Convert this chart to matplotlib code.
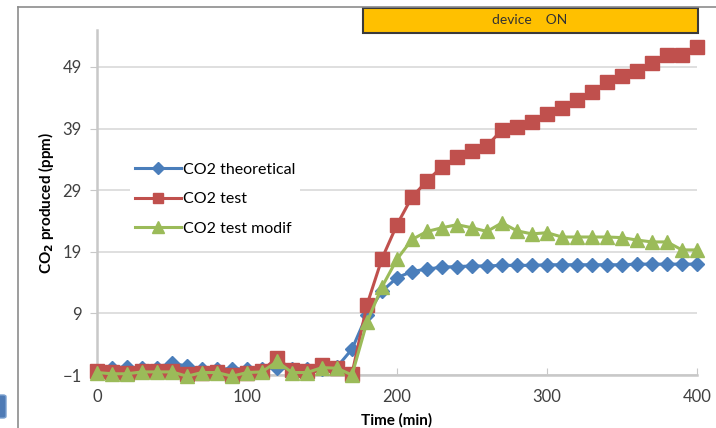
import matplotlib
matplotlib.use("Agg")
import matplotlib.pyplot as plt
from matplotlib.lines import Line2D
from matplotlib.patches import Rectangle, FancyBboxPatch

# time points (min), one sample every 10 min
time_min = list(range(0, 401, 10))

co2_theoretical = [-0.3, 0.2, 0.3, 0.1, 0.2, 1.0, 0.4, 0.0, 0.0, 0.0, 0.0, 0.0, 0.2, 0.0, 0.0, 0.0, 0.3,
                   3.2, 8.8, 12.6, 14.8, 15.8, 16.2, 16.5,
                   16.6, 16.7, 16.7, 16.8, 16.8, 16.8, 16.9, 16.9, 16.9, 16.9, 16.9, 16.9, 17.0, 17.0, 17.0, 17.0, 17.0]
co2_test = [-0.4, -0.5, -0.7, -0.3, -0.3, -0.4, -0.8, -0.6, -0.5, -1.0, -0.6, -0.3, 1.8, -0.2, -0.3, 0.7, 0.2,
            -0.8, 10.4, 17.9, 23.4, 27.9, 30.5, 32.8, 34.4, 35.4, 36.2, 38.8, 39.2, 40.0, 41.3, 42.4,
            43.7, 45.0, 46.5, 47.5, 48.3, 49.7, 51.0, 51.0, 52.3]
co2_test_modif = [-0.6, -0.8, -0.8, -0.5, -0.5, -0.5, -1.2, -0.6, -0.6, -1.2, -0.6, -0.5, 1.2, -0.6, -0.6, 0.2, 0.1,
                  -1.0, 7.6, 13.3, 17.8, 21.0, 22.3, 22.9, 23.4, 22.9, 22.3, 23.7, 22.4, 21.9, 22.1, 21.4,
                  21.4, 21.4, 21.4, 21.3, 20.9, 20.6, 20.6, 19.3, 19.3]

series_names = ["CO2 theoretical", "CO2 test", "CO2 test modif"]
y_ticks = [-1, 9, 19, 29, 39, 49]
x_ticks = [0, 100, 200, 300, 400]

plt.rcParams['font.family'] = ['Lato', 'DejaVu Sans']

W, H = 716, 428
fig = plt.figure(figsize=(W / 100, H / 100), dpi=100)
ax = fig.add_axes([97 / W, 1 - 375 / H, 600 / W, 345 / H])

ax.plot(time_min, co2_theoretical, color="#4a7ebb", lw=2.2, marker="D", ms=7.5,
        label=series_names[0], clip_on=False, zorder=3)
ax.plot(time_min, co2_test, color="#c0504d", lw=2.2, marker="s", ms=9.5,
        label=series_names[1], clip_on=False, zorder=4)
ax.plot(time_min, co2_test_modif, color="#9bbb59", lw=2.2, marker="^", ms=10,
        label=series_names[2], clip_on=False, zorder=5)

ax.set_xlim(0, 400)
ax.set_ylim(-1, 55)
ax.set_xticks(x_ticks)
ax.set_yticks(y_ticks)
ax.grid(axis="y", color="#d9d9d9", lw=1.2)
ax.set_axisbelow(True)

for s in ["top", "right"]:
    ax.spines[s].set_visible(False)
ax.spines["left"].set_color("#c8c8c8")
ax.spines["left"].set_linewidth(1.8)
ax.spines["bottom"].set_color("#c8c8c8")
ax.spines["bottom"].set_linewidth(1.8)

ax.tick_params(axis="x", direction="in", length=5, color="#c8c8c8", labelsize=12,
               labelcolor="#404040", pad=10)
ax.tick_params(axis="y", direction="out", length=5, color="#c8c8c8", labelsize=12,
               labelcolor="#404040", pad=6)

ax.set_xlabel("Time (min)", fontsize=11, fontweight="bold", labelpad=6)
ax.set_ylabel("CO$_\\mathbf{2}$ produced (ppm)", fontsize=11, fontweight="bold", labelpad=5)

leg = ax.legend(loc="upper left", bbox_to_anchor=(130 / W, 1 - 158 / H),
                bbox_transform=fig.transFigure, fontsize=11.5, frameon=True,
                facecolor="white", edgecolor="none", framealpha=1,
                handlelength=2.9, handletextpad=0.1, labelspacing=0.95,
                borderpad=0.3, borderaxespad=0, markerscale=0.8)
leg.set_zorder(6)

# "device ON" banner over the run period
fig.add_artist(Rectangle((363 / W, 1 - 33 / H), 335 / W, 25 / H, transform=fig.transFigure,
                         facecolor="#ffc000", edgecolor="#3a3a3a", lw=1.5))
fig.text(530 / W, 1 - 20.5 / H, "device    ON", ha="center", va="center", fontsize=10, color="#333333")

# outer chart frame
fig.add_artist(Line2D([18 / W, 18 / W], [0, 1 - 7 / H], transform=fig.transFigure, color="#8c8c8c", lw=1.2))
fig.add_artist(Line2D([18 / W, 1], [1 - 7 / H, 1 - 7 / H], transform=fig.transFigure, color="#8c8c8c", lw=1.2))

# small blue tab at the left edge
fig.add_artist(FancyBboxPatch((-4 / W, 1 - 418 / H), 10 / W, 23 / H, transform=fig.transFigure,
                              boxstyle="round,pad=0,rounding_size=0.004", facecolor="#4f7bb5",
                              edgecolor="#7aa0cf", lw=1))

fig.savefig("out.png", dpi=100)
